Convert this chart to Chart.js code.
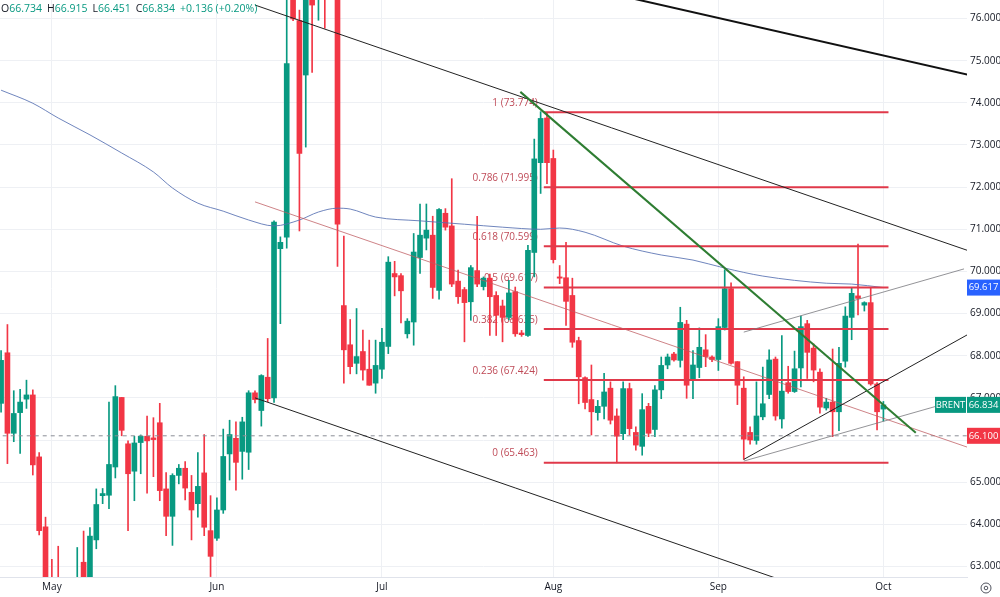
<!DOCTYPE html>
<html>
<head>
<meta charset="utf-8">
<title>BRENT daily</title>
<script src="https://cdn.jsdelivr.net/npm/chart.js@4.4.1/dist/chart.umd.min.js"></script>
<style>
  html, body { margin: 0; padding: 0; background: #ffffff; }
  #wrap { width: 1000px; height: 597px; }
</style>
</head>
<body>
<div id="wrap"><canvas id="chart" width="1000" height="597"></canvas></div>
<script>
// Trading days (a short Sunday session makes 6 bars a week)
const aprDays = [22, 23, 24, 25, 27, 28, 29, 30];
const mayDays = [1, 2, 4, 5, 6, 7, 8, 9, 11, 12, 13, 14, 15, 16, 18, 19, 20, 21, 22, 23, 25, 26, 27, 28, 29, 30];
const junDays = [1, 2, 3, 4, 5, 6, 8, 9, 10, 11, 12, 13, 15, 16, 17, 18, 19, 20, 22, 23, 24, 25, 26, 27, 29, 30];
const julDays = [1, 2, 3, 4, 6, 7, 8, 9, 10, 11, 13, 14, 15, 16, 17, 18, 20, 21, 22, 23, 24, 25, 27, 28, 29, 30, 31];
const augDays = [1, 3, 4, 5, 6, 7, 8, 10, 11, 12, 13, 14, 15, 17, 18, 19, 20, 21, 22, 24, 25, 26, 27, 28, 29, 31];
const sepDays = [1, 2, 3, 4, 5, 7, 8, 9, 10, 11, 12, 14, 15, 16, 17, 18, 19, 21, 22, 23, 24, 25, 26, 28, 29, 30];
const octDays = [1];
const monthNames = ["Apr", "May", "Jun", "Jul", "Aug", "Sep", "Oct"];
const futureSlots = 14; // empty space right of the last bar

// OHLC, one value per bar
const opens = [66.87, 68.07, 66.16, 66.65, 66.97, 67.07, 65.60, 63.94, 62.50, 62.00,
  60.80, 60.60, 60.40, 63.10, 61.90, 63.63, 64.68, 64.69, 65.36, 67.01,
  65.91, 65.26, 65.94, 66.09, 66.05, 66.41, 64.84, 64.19, 65.16, 65.33,
  64.76, 64.49, 65.22, 63.85, 63.67, 64.34, 65.67, 66.04, 65.73, 65.71,
  67.12, 66.70, 67.49, 67.00, 70.54, 70.81, 77.20, 75.95, 74.66, 76.80,
  76.90, 78.50, 78.00, 77.00, 69.19, 68.26, 67.82, 68.10, 67.68, 67.35,
  67.68, 68.22, 69.95, 69.90, 68.52, 68.80, 70.33, 70.79, 70.86, 69.55,
  71.38, 71.08, 69.77, 69.57, 69.28, 70.02, 69.64, 69.84, 69.43, 69.18,
  68.91, 69.52, 68.54, 68.48, 70.45, 72.58, 73.64, 72.68, 69.87, 69.85,
  69.43, 68.36, 67.48, 66.96, 66.65, 66.80, 67.23, 66.57, 66.15, 67.22,
  66.18, 65.85, 66.80, 66.25, 67.19, 67.78, 68.04, 67.89, 68.75, 67.44,
  67.72, 68.14, 67.97, 67.91, 68.67, 69.59, 67.86, 67.23, 66.18, 65.99,
  66.55, 67.08, 67.92, 66.50, 67.36, 67.15, 67.71, 68.76, 68.18, 67.61,
  66.76, 66.90, 66.67, 67.87, 68.91, 69.42, 69.20, 69.26, 67.33, 66.734];
const highs = [68.12, 68.74, 67.17, 67.20, 67.42, 67.19, 65.70, 64.17, 63.17, 63.48,
  61.10, 61.00, 63.45, 63.84, 63.92, 64.84, 64.85, 66.90, 67.29, 67.01,
  65.98, 66.09, 66.12, 66.57, 66.53, 66.87, 65.23, 65.20, 65.42, 65.49,
  65.16, 65.70, 66.13, 64.68, 64.63, 66.26, 66.47, 66.43, 66.54, 67.17,
  67.17, 67.55, 68.41, 71.20, 70.82, 78.50, 77.60, 76.20, 77.20, 77.20,
  79.00, 79.10, 81.40, 77.50, 70.84, 68.86, 69.12, 68.61, 68.37, 68.37,
  68.65, 70.35, 70.24, 69.95, 68.88, 70.90, 71.60, 71.60, 71.31, 71.49,
  71.49, 72.20, 70.03, 69.62, 70.14, 71.31, 69.87, 69.94, 69.52, 69.32,
  69.79, 69.63, 68.60, 70.62, 73.14, 73.79, 73.77, 72.88, 70.14, 70.69,
  69.84, 68.44, 67.50, 67.78, 66.94, 67.58, 67.38, 66.74, 67.38, 67.35,
  66.31, 67.10, 66.87, 67.29, 67.97, 68.04, 68.08, 69.15, 68.84, 68.12,
  68.66, 68.50, 68.00, 68.88, 70.04, 69.73, 67.86, 67.50, 66.31, 67.38,
  67.73, 68.14, 67.97, 68.48, 67.75, 68.11, 68.94, 68.84, 68.28, 67.69,
  66.99, 68.16, 68.20, 69.16, 69.60, 70.65, 69.28, 69.60, 67.36, 66.915];
const lows = [66.66, 65.44, 65.96, 65.68, 66.75, 65.17, 63.75, 62.00, 61.20, 60.90,
  60.50, 58.40, 60.20, 61.20, 61.70, 63.42, 64.49, 64.37, 65.10, 66.10,
  63.85, 64.56, 65.20, 64.74, 65.13, 64.56, 63.73, 63.50, 64.96, 64.58,
  63.63, 64.17, 63.73, 62.76, 63.62, 64.26, 65.05, 64.81, 65.07, 65.30,
  66.88, 66.33, 66.91, 66.89, 68.76, 70.55, 75.95, 70.96, 72.95, 74.72,
  75.96, 75.77, 76.60, 70.12, 67.35, 67.57, 67.57, 67.42, 67.30, 67.11,
  67.46, 68.05, 69.42, 68.78, 68.42, 68.25, 69.95, 70.51, 69.36, 69.34,
  70.98, 69.64, 69.24, 68.33, 68.84, 69.64, 69.56, 68.48, 68.48, 68.33,
  68.85, 68.46, 68.46, 68.46, 69.87, 71.85, 72.08, 70.20, 69.71, 68.72,
  68.20, 66.86, 66.74, 66.12, 66.47, 66.50, 66.38, 65.46, 66.01, 66.12,
  65.76, 65.64, 66.08, 66.08, 66.98, 67.69, 67.87, 67.73, 66.99, 66.98,
  67.48, 67.74, 67.86, 67.65, 68.61, 67.80, 66.84, 65.54, 65.90, 65.90,
  66.48, 66.98, 66.47, 66.28, 67.11, 67.13, 67.26, 67.46, 67.38, 66.64,
  66.71, 66.08, 66.22, 67.73, 68.38, 68.97, 69.06, 67.30, 66.24, 66.451];
const closes = [67.89, 66.16, 66.63, 66.90, 67.07, 65.41, 63.85, 62.30, 61.80, 61.40,
  60.70, 60.30, 62.20, 61.60, 63.72, 64.47, 64.73, 65.42, 67.03, 66.23,
  65.20, 65.93, 66.09, 65.98, 66.01, 64.80, 64.19, 65.16, 65.33, 64.86,
  64.34, 64.90, 63.93, 63.24, 64.34, 65.61, 66.13, 65.47, 66.43, 67.12,
  66.96, 67.53, 66.98, 71.17, 70.69, 74.93, 75.99, 72.80, 76.80, 76.32,
  78.50, 77.00, 77.20, 71.12, 68.14, 67.74, 67.98, 67.66, 67.30, 67.77,
  68.32, 70.22, 69.87, 69.54, 68.82, 70.46, 70.86, 70.98, 69.62, 71.47,
  71.05, 69.70, 69.40, 69.26, 70.09, 69.70, 69.84, 69.40, 68.96, 68.91,
  69.49, 68.52, 68.50, 70.50, 72.67, 73.63, 72.58, 70.28, 69.84, 69.29,
  68.32, 67.50, 66.89, 66.67, 66.80, 67.14, 66.47, 66.09, 67.22, 66.27,
  65.88, 66.72, 66.16, 67.19, 67.77, 67.97, 67.90, 68.79, 67.30, 67.78,
  68.20, 67.98, 67.91, 68.69, 69.59, 67.82, 67.30, 66.02, 66.00, 66.57,
  66.86, 67.90, 66.57, 67.16, 67.15, 67.69, 68.69, 68.08, 67.66, 66.78,
  66.90, 66.67, 67.82, 68.94, 69.48, 69.36, 69.26, 67.33, 66.67, 66.834];

// Moving average, read at sample bars
const maBars = [0, 5, 9, 14, 19, 24, 27, 31, 35, 39, 43, 47, 50, 53, 55, 59, 66, 73, 79, 85, 88, 92, 98, 104, 109, 114, 120, 130, 134, 139];
const maValues = [74.30, 73.99, 73.64, 73.24, 72.81, 72.36, 71.98, 71.62, 71.43, 71.22,
  71.08, 71.22, 71.41, 71.50, 71.48, 71.29, 71.20, 71.12, 71.05, 71.00,
  71.03, 70.93, 70.60, 70.39, 70.27, 70.08, 69.89, 69.72, 69.70, 69.617];

// Fibonacci retracement
const fibRatios = ["1", "0.786", "0.618", "0.5", "0.382", "0.236", "0"];
const fibValues = [73.774, 71.995, 70.599, 69.617, 68.635, 67.424, 65.463];
const fibFrom = 85.5, fibTo = 139.8;

// Drawn trend lines: [bar, price] end points
const upperChannel = [[40, 76.32], [153, 70.46]];
const lowerChannel = [[40, 67.00], [125, 62.57]];
const midChannel = [[40, 71.65], [153, 65.79]];
const topLine = [[95, 76.63], [152.5, 74.66]];
const greenLine = [[81.8, 74.26], [144.1, 66.17]];
const risingLine = [[117, 65.54], [152.5, 68.52]];
const greyLow = [[117, 65.50], [148, 66.83]];
const greyHigh = [[117, 68.56], [151.7, 70.06]];

const yTicks = [63, 64, 65, 66, 67, 68, 69, 70, 71, 72, 73, 74, 75, 76];
const lastPrice = 66.834, maLast = 69.617, markLevel = 66.100;
const header = [["O", "66.734"], ["H", "66.915"], ["L", "66.451"], ["C", "66.834"], ["", "+0.136 (+0.20%)"]];

const UP = "#089981", DOWN = "#f23645";

// Category labels built from the day lists
const dateLabels = [];
const monthStarts = [];
[aprDays, mayDays, junDays, julDays, augDays, sepDays, octDays].forEach((days, m) => {
  if (m > 0) monthStarts.push(dateLabels.length);
  days.forEach((d) => dateLabels.push(`${monthNames[m]} ${d}`));
});
const xMax = dateLabels.length - 1 + futureSlots - 0.83;

const bars = dateLabels.map((_, i) => i);
const candleColor = (ctx) => (closes[ctx.dataIndex] >= opens[ctx.dataIndex] ? UP : DOWN);

function segment(points, color, width, order, dash) {
  return {
    type: "line",
    data: points.map(([x, y]) => ({ x, y })),
    borderColor: color,
    borderWidth: width,
    borderDash: dash || [],
    pointRadius: 0,
    fill: false,
    order: order,
  };
}

const overlayPlugin = {
  id: "overlay",
  beforeDatasetsDraw(chart) {
    const { ctx, scales } = chart;
    ctx.save();
    ctx.font = "10px 'Open Sans'";
    ctx.fillStyle = "#bf4a57";
    ctx.textAlign = "right";
    ctx.textBaseline = "middle";
    const xr = scales.x.getPixelForValue(fibFrom) - 6;
    fibValues.forEach((v, i) => {
      ctx.fillText(`${fibRatios[i]} (${v.toFixed(3)})`, xr, scales.y.getPixelForValue(v) - 9);
    });
    ctx.restore();
  },
  afterDraw(chart) {
    const { ctx, scales, chartArea } = chart;
    ctx.save();
    // header line
    ctx.font = "10.5px 'Open Sans'";
    ctx.textBaseline = "middle";
    ctx.textAlign = "left";
    let x = 1;
    header.forEach(([k, v]) => {
      if (k) {
        ctx.fillStyle = "#131722";
        ctx.fillText(k, x, 9);
        x += ctx.measureText(k).width;
      }
      ctx.fillStyle = UP;
      ctx.fillText(v, x, 9);
      x += ctx.measureText(v).width + 5;
    });

    // price tags on the right axis
    ctx.font = "9.5px 'Open Sans'";
    const tag = (x0, x1, value, bg, text) => {
      const y = scales.y.getPixelForValue(value);
      ctx.fillStyle = bg;
      ctx.fillRect(x0, y - 8, x1 - x0, 16);
      ctx.fillStyle = "#ffffff";
      ctx.textAlign = "center";
      ctx.fillText(text, (x0 + x1) / 2, y);
    };
    const r = chartArea.right;
    tag(r, chart.width, maLast, "#2962ff", maLast.toFixed(3));
    tag(r - 32, r - 1, lastPrice, UP, "BRENT");
    tag(r, chart.width, lastPrice, UP, lastPrice.toFixed(3));
    tag(r, chart.width, markLevel, DOWN, markLevel.toFixed(3));

    // settings glyph
    ctx.strokeStyle = "#50535e";
    ctx.lineWidth = 1;
    ctx.beginPath();
    ctx.arc(986, 588, 5, 0, Math.PI * 2);
    ctx.stroke();
    ctx.beginPath();
    ctx.arc(986, 588, 1.8, 0, Math.PI * 2);
    ctx.stroke();
    ctx.restore();
  },
};

new Chart(document.getElementById("chart"), {
  type: "bar",
  data: {
    datasets: [
      segment(greenLine, "#2e7d32", 2, 1),
      segment(topLine, "#111111", 2, 2),
      segment(upperChannel, "#222222", 1, 2),
      segment(lowerChannel, "#222222", 1, 2),
      segment(risingLine, "#222222", 1, 2),
      segment(midChannel, "rgba(190, 90, 95, 0.75)", 1, 3),
      segment(greyLow, "rgba(120, 120, 125, 0.8)", 1, 3),
      segment(greyHigh, "rgba(120, 120, 125, 0.8)", 1, 3),
      ...fibValues.map((v) => segment([[fibFrom, v], [fibTo, v]], "#e0394a", 2, 4)),
      segment([[-1, markLevel], [xMax + 1, markLevel]], "#8a8d96", 1, 5, [4, 4]),
      {
        type: "line",
        data: maBars.map((b, i) => ({ x: b, y: maValues[i] })),
        borderColor: "rgba(86, 112, 178, 0.85)",
        borderWidth: 1,
        pointRadius: 0,
        cubicInterpolationMode: "monotone",
        fill: false,
        order: 6,
      },
      {
        type: "bar",
        data: bars.map((i) => ({ x: i, y: [opens[i], closes[i]] })),
        backgroundColor: candleColor,
        barThickness: 5,
        minBarLength: 1,
        grouped: false,
        order: 8,
      },
      {
        type: "bar",
        data: bars.map((i) => ({ x: i, y: [lows[i], highs[i]] })),
        backgroundColor: candleColor,
        barThickness: 1,
        grouped: false,
        order: 9,
      },
    ],
  },
  options: {
    responsive: false,
    animation: false,
    devicePixelRatio: 1,
    layout: { padding: 0 },
    plugins: { legend: { display: false }, tooltip: { enabled: false } },
    scales: {
      x: {
        type: "linear",
        min: -0.17,
        max: xMax,
        offset: false,
        grid: { offset: false, color: "#eef0f4", drawTicks: false },
        border: { display: true, color: "#e0e3eb" },
        afterBuildTicks: (s) => { s.ticks = monthStarts.map((v) => ({ value: v })); },
        afterFit: (s) => { s.height = 20; s.paddingLeft = 0; s.paddingRight = 0; },
        ticks: {
          autoSkip: false,
          maxRotation: 0,
          padding: 4,
          color: "#131722",
          font: { family: "'Open Sans'", size: 10 },
          callback: (v) => monthNames[monthStarts.indexOf(v) + 1],
        },
      },
      y: {
        position: "right",
        min: 62.75,
        max: 76.44,
        grid: { color: "#eef0f4", drawTicks: false },
        border: { display: false },
        afterBuildTicks: (s) => { s.ticks = yTicks.map((v) => ({ value: v })); },
        afterFit: (s) => { s.width = 33; s.paddingTop = 0; s.paddingBottom = 0; },
        ticks: {
          padding: 3,
          color: "#131722",
          font: { family: "'Open Sans'", size: 10 },
          callback: (v) => v.toFixed(3),
        },
      },
    },
  },
  plugins: [overlayPlugin],
});
</script>
</body>
</html>
